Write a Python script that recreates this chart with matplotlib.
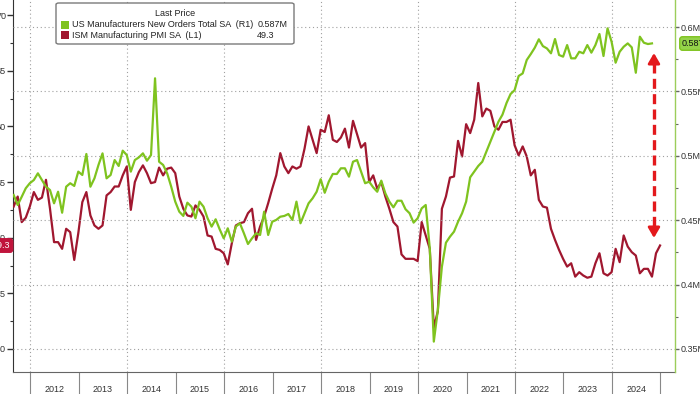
import numpy as np
import pandas as pd
import matplotlib
matplotlib.use("Agg")
import matplotlib.pyplot as plt
from matplotlib.patches import FancyBboxPatch, Rectangle
from matplotlib.ticker import MultipleLocator, FixedLocator, FuncFormatter, NullFormatter

plt.rcParams["font.family"] = ["Liberation Sans", "DejaVu Sans"]

# ---------------- data ----------------
start_month = "2011-08"

pmi = [52.8, 53.7, 51.4, 51.8, 52.8, 54.1, 53.4, 53.6, 55.2, 52.6,
       49.6, 49.6, 49.0, 50.8, 50.5, 48.0, 50.4, 53.2, 54.1, 52.0,
       51.1, 50.8, 51.1, 53.8, 54.1, 54.6, 54.6, 55.6, 56.4, 52.5,
       55.0, 55.9, 56.5, 55.8, 54.9, 55.0, 56.3, 55.6, 56.2, 56.3,
       55.8, 53.7, 52.6, 52.0, 51.9, 52.9, 52.5, 51.9, 50.2, 50.1,
       49.0, 48.9, 48.6, 47.6, 49.5, 51.1, 51.3, 51.4, 52.2, 52.6,
       49.8, 51.0, 51.9, 53.1, 54.4, 55.6, 57.6, 56.4, 55.8, 56.4,
       56.2, 56.4, 58.0, 60.0, 58.8, 57.6, 59.7, 59.5, 61.0, 58.8,
       58.6, 59.0, 59.8, 58.1, 60.5, 59.3, 58.1, 58.5, 55.0, 55.6,
       54.4, 55.0, 53.7, 52.6, 51.4, 51.0, 48.5, 48.1, 48.1, 48.1,
       47.9, 51.4, 50.2, 49.0, 41.9, 43.4, 52.6, 53.7, 55.4, 55.5,
       58.7, 57.3, 60.2, 59.4, 60.6, 63.9, 60.9, 61.6, 61.4, 60.0,
       59.7, 60.4, 60.4, 60.6, 58.3, 57.4, 58.2, 57.3, 55.6, 56.1,
       53.4, 52.8, 52.7, 50.8, 49.8, 48.9, 48.1, 47.4, 47.7, 46.5,
       46.9, 46.6, 46.4, 46.5, 47.7, 48.6, 46.8, 46.6, 46.9, 49.0,
       47.8, 50.2, 49.2, 48.7, 48.4, 46.8, 47.2, 47.2, 46.5, 48.6,
       49.3]

new_orders = [0.4696, 0.4618, 0.4682, 0.4748, 0.4787, 0.4812, 0.4864, 0.4812, 0.4760, 0.4734,
              0.4631, 0.4721, 0.4558, 0.4760, 0.4787, 0.4766, 0.4877, 0.4851, 0.5014, 0.4760,
              0.4825, 0.4929, 0.5019, 0.4825, 0.4851, 0.4967, 0.4921, 0.5040, 0.5006, 0.4877,
              0.4967, 0.4988, 0.5019, 0.4962, 0.5006, 0.5602, 0.4954, 0.4929, 0.4864, 0.4760,
              0.4644, 0.4566, 0.4533, 0.4636, 0.4605, 0.4515, 0.4644, 0.4605, 0.4515, 0.4450,
              0.4507, 0.4429, 0.4359, 0.4437, 0.4333, 0.4450, 0.4476, 0.4398, 0.4315, 0.4359,
              0.4398, 0.4385, 0.4566, 0.4385, 0.4488, 0.4502, 0.4527, 0.4533, 0.4548, 0.4502,
              0.4644, 0.4476, 0.4554, 0.4631, 0.4670, 0.4721, 0.4818, 0.4713, 0.4799, 0.4859,
              0.4859, 0.4903, 0.4903, 0.4838, 0.4954, 0.4967, 0.4877, 0.4787, 0.4799, 0.4755,
              0.4721, 0.4807, 0.4709, 0.4644, 0.4600, 0.4651, 0.4651, 0.4585, 0.4554, 0.4481,
              0.4515, 0.4592, 0.4618, 0.4282, 0.3557, 0.3803, 0.4139, 0.4325, 0.4372, 0.4411,
              0.4488, 0.4554, 0.4644, 0.4833, 0.4877, 0.4921, 0.4954, 0.5032, 0.5110, 0.5187,
              0.5265, 0.5320, 0.5410, 0.5480, 0.5510, 0.5620, 0.5640, 0.5744, 0.5790, 0.5840,
              0.5905, 0.5852, 0.5834, 0.5796, 0.5907, 0.5783, 0.5770, 0.5860, 0.5757, 0.5757,
              0.5808, 0.5796, 0.5860, 0.5801, 0.5860, 0.5946, 0.5775, 0.5990, 0.5886, 0.5723,
              0.5808, 0.5847, 0.5873, 0.5842, 0.5645, 0.5925, 0.5878, 0.5868, 0.5873]

year_labels = [str(y) for y in range(2012, 2025)]
left_ticks = [40, 45, 50, 55, 60, 65, 70]
right_ticks = [0.35, 0.40, 0.45, 0.50, 0.55, 0.60]
legend_title = "Last Price"
legend_names = ["US Manufacturers New Orders Total SA  (R1)", "ISM Manufacturing PMI SA  (L1)"]
last_values = ["0.587M", "49.3"]

GREEN = "#7fc31f"
RED = "#a0172f"


def frac_year(n):
    p = pd.period_range(start=start_month, periods=n, freq="M")
    return np.asarray(p.year + (p.month - 0.1) / 12.0, dtype=float)


x_pmi = frac_year(len(pmi))
x_no = frac_year(len(new_orders))

# ---------------- figure ----------------
W, H = 700, 394
fig = plt.figure(figsize=(W / 100, H / 100), dpi=100)
ax = fig.add_axes([13 / W, 22 / H, (675 - 13) / W, (H - 22) / H])
ax2 = ax.twinx()

ax.set_xlim(2011.645, 2025.30)
ax.set_ylim(37.93, 71.36)
ax2.set_ylim(0.3321, 0.6210)

# grid
for yr in range(2012, 2025, 2):
    ax.axvline(yr, color="#a0a0a0", lw=0.8, ls=(0, (1, 2.5)), zorder=0)
for v in right_ticks:
    ax2.axhline(v, color="#a0a0a0", lw=0.8, ls=(0, (1, 2.5)), zorder=0)

ax.plot(x_pmi, pmi, color=RED, lw=1.6, zorder=3, solid_joinstyle="round")
ax2.plot(x_no, new_orders, color=GREEN, lw=1.6, zorder=3, solid_joinstyle="round")

# spines
for s in ["top", "right"]:
    ax.spines[s].set_visible(False)
ax.spines["left"].set_color("#333333")
ax.spines["bottom"].set_color("#666666")
for s in ["top", "left", "bottom"]:
    ax2.spines[s].set_visible(False)
ax2.spines["right"].set_color("#9ccd5a")
ax2.spines["right"].set_linewidth(1.0)

# left ticks
ax.yaxis.set_major_locator(FixedLocator(left_ticks))
ax.yaxis.set_minor_locator(MultipleLocator(2.5))
ax.tick_params(axis="y", which="major", length=4, width=1, color="#333333",
               labelsize=6.5, labelcolor="#333333", pad=1)
ax.tick_params(axis="y", which="minor", length=2, width=0.8, color="#333333")

# right ticks
ax2.yaxis.set_major_locator(FixedLocator(right_ticks))
ax2.yaxis.set_minor_locator(MultipleLocator(0.025))
ax2.yaxis.set_major_formatter(FuncFormatter(lambda v, p: f"{v:g}M"))
ax2.tick_params(axis="y", which="major", length=3, width=1, color="#666666",
                labelsize=6.5, labelcolor="#333333", pad=1)
ax2.tick_params(axis="y", which="minor", length=2, width=0.8, color="#666666")

# x axis: year separators and centred labels
years = list(range(2012, 2026))
ax.xaxis.set_major_locator(FixedLocator(years))
ax.xaxis.set_major_formatter(NullFormatter())
ax.xaxis.set_minor_locator(FixedLocator([y + 0.5 for y in range(2012, 2025)]))
ax.xaxis.set_minor_formatter(FuncFormatter(lambda v, p: year_labels[int(round(v - 0.5)) - 2012]
                                           if 0 <= int(round(v - 0.5)) - 2012 < len(year_labels) else ""))
ax.tick_params(axis="x", which="major", length=17, width=0.8, color="#888888", direction="out")
ax.tick_params(axis="x", which="minor", length=0, labelsize=6.5, labelcolor="#333333", pad=9)

# dashed double arrow
xa = 2024.866
ytop, ybot = 0.5798, 0.4362
ARROW = "#e3191c"
ax2.plot([xa, xa], [ytop - 0.008, ybot + 0.008], color=ARROW, lw=2.4, ls=(0, (3, 1.6)), zorder=5)
ax2.annotate("", xy=(xa, ytop), xytext=(xa, ytop - 0.009),
             arrowprops=dict(arrowstyle="-|>,head_length=0.6,head_width=0.35", color=ARROW, lw=2.0,
                             shrinkA=0, shrinkB=0), zorder=6)
ax2.annotate("", xy=(xa, ybot), xytext=(xa, ybot + 0.009),
             arrowprops=dict(arrowstyle="-|>,head_length=0.6,head_width=0.35", color=ARROW, lw=2.0,
                             shrinkA=0, shrinkB=0), zorder=6)

# last value tags
fig.text(10.5 / W, 1 - 245.5 / H, last_values[1], ha="right", va="center", fontsize=6.5,
         color="white", bbox=dict(boxstyle="round,pad=0.25,rounding_size=0.3", fc="#c0143c", ec="#c0143c"))
fig.text(682 / W, 1 - 43.5 / H, last_values[0], ha="left", va="center", fontsize=6.5,
         color="#111111", bbox=dict(boxstyle="round,pad=0.25,rounding_size=0.3", fc="#95d34a", ec="#7fc31f"))

# legend
box = FancyBboxPatch((56 / W, 1 - 44 / H), (294 - 56) / W, 41 / H,
                     boxstyle="round,pad=0,rounding_size=0.004", transform=fig.transFigure,
                     fc="white", ec="#7a7a7a", lw=1.0, zorder=10)
fig.add_artist(box)
fig.text(175 / W, 1 - 14 / H, legend_title, ha="center", va="center", fontsize=6.5,
         color="#222222", zorder=11)
rows_y = [24.7, 35.3]
colors = [GREEN, RED]
val_right = [288, 274]
for i in range(2):
    yy = 1 - rows_y[i] / H
    fig.add_artist(Rectangle((61 / W, yy - 4 / H), 8 / W, 8 / H, transform=fig.transFigure,
                             fc=colors[i], ec="none", zorder=11))
    fig.text(72 / W, yy, legend_names[i], ha="left", va="center", fontsize=6.5,
             color="#222222", zorder=11)
    fig.text(val_right[i] / W, yy, last_values[i], ha="right", va="center", fontsize=6.5,
             color="#222222", zorder=11)

fig.savefig("out.png", dpi=100)
